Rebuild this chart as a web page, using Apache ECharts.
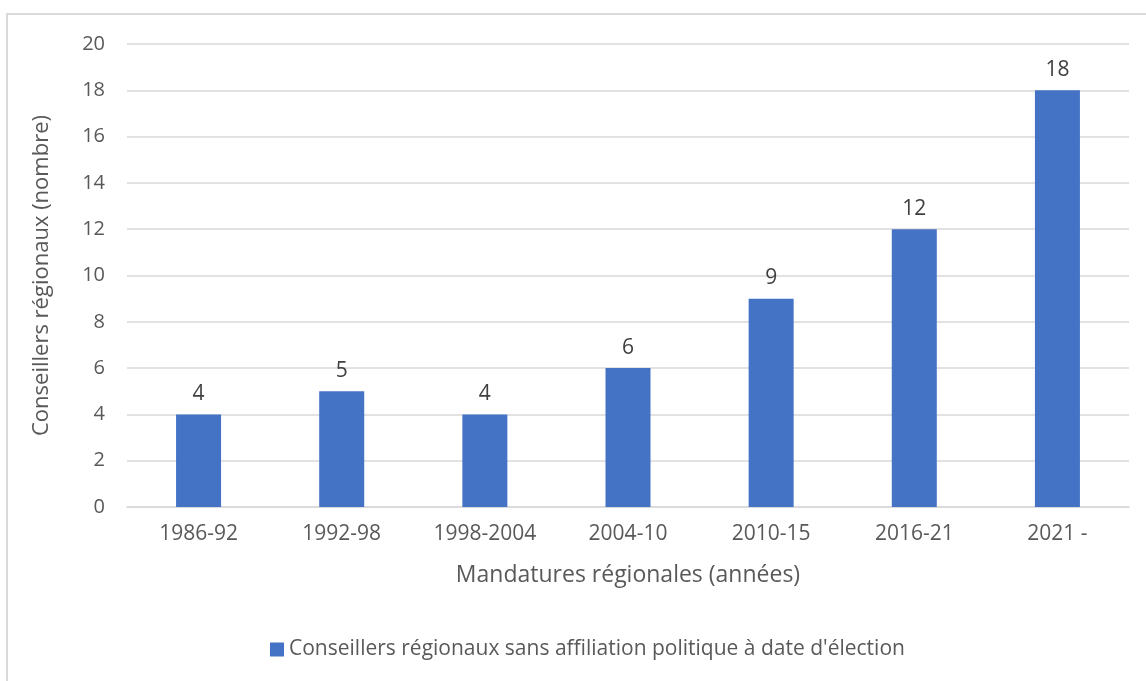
<!DOCTYPE html>
<html><head><meta charset="utf-8">
<script src="https://cdn.jsdelivr.net/npm/echarts@6/dist/echarts.min.js"></script>
<style>html,body{margin:0;padding:0;background:#fff}#c{width:1146px;height:681px}</style>
</head><body><div id="c"></div>
<script>
const categories = ['1986-92','1992-98','1998-2004','2004-10','2010-15','2016-21','2021 -'];
const values = [4,5,4,6,9,12,18];
const seriesName = "Conseillers régionaux sans affiliation politique à date d'élection";
const xTitle = 'Mandatures régionales (années)';
const yTitle = 'Conseillers régionaux (nombre)';
const FONT = 'Open Sans';
const chart = echarts.init(document.getElementById('c'));
chart.setOption({
  animation:false,
  textStyle:{fontFamily:FONT},
  graphic:[{type:'rect',shape:{x:7,y:14,width:1160,height:700},style:{fill:'none',stroke:'#d9d9d9',lineWidth:2},silent:true,z:-1}],
  grid:{left:127,right:17,top:44,bottom:174},
  legend:{top:634,left:265,itemWidth:14,itemHeight:14,itemGap:6,icon:'rect',
    textStyle:{fontFamily:FONT,fontSize:21,color:'#595959'},data:[seriesName]},
  xAxis:{type:'category',data:categories,
    axisLine:{lineStyle:{color:'#d9d9d9',width:1.5}},axisTick:{show:false},
    axisLabel:{fontFamily:FONT,fontSize:21,color:'#595959',margin:17},
    name:xTitle,nameLocation:'middle',nameGap:57,
    nameTextStyle:{fontFamily:FONT,fontSize:23,color:'#595959'}},
  yAxis:{type:'value',min:0,max:20,interval:2,
    axisLine:{show:false},axisTick:{show:false},
    splitLine:{lineStyle:{color:'#d9d9d9',width:1.5}},
    axisLabel:{fontFamily:FONT,fontSize:20,color:'#595959',margin:22},
    name:yTitle,nameLocation:'middle',nameGap:74,
    nameTextStyle:{fontFamily:FONT,fontSize:22,color:'#595959'}},
  series:[{type:'bar',name:seriesName,data:values,barWidth:45,
    itemStyle:{color:'#4472C4'},
    label:{show:true,position:'top',distance:10,fontFamily:FONT,fontSize:21,color:'#404040'}}]
});
</script></body></html>
